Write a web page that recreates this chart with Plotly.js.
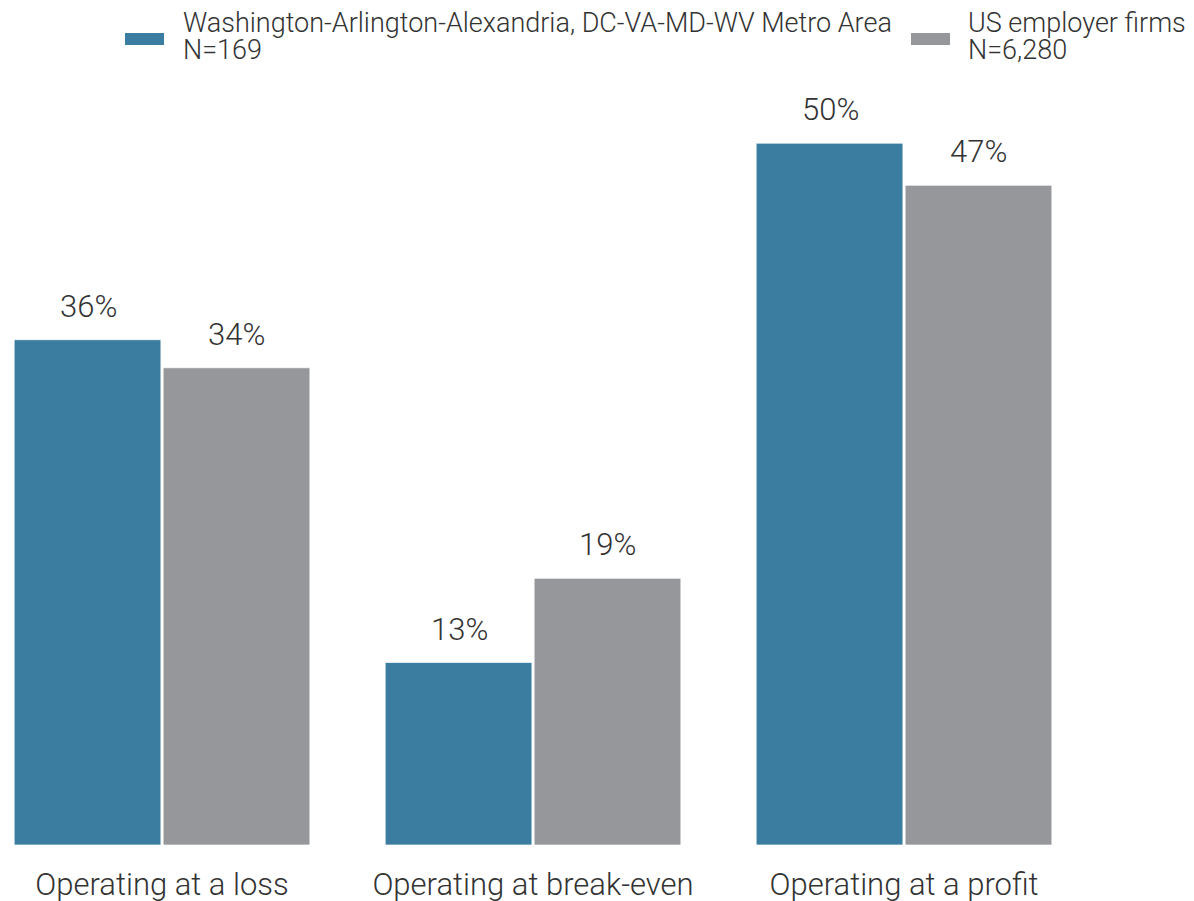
<!DOCTYPE html>
<html>
<head>
<meta charset="utf-8">
<script src="https://cdn.plot.ly/plotly-3.0.1.min.js"></script>
<style>html,body{margin:0;padding:0;background:#fff;}#chart{width:1194px;height:901px;}</style>
</head>
<body>
<div id="chart"></div>
<script>
const categories = ["Operating at a loss", "Operating at break-even", "Operating at a profit"];
const seriesNames = ["Washington-Arlington-Alexandria, DC-VA-MD-WV Metro Area", "US employer firms"];
const seriesN = ["N=169", "N=6,280"];
const metroValues = [36, 13, 50];
const usValues = [34, 19, 47];
const colors = ["#3a7da0", "#96979b"];

const W = 1194, H = 901;
const mT = 73, mB = 56;
const plotH = H - mT - mB;
const py = (y) => 1 + (mT - y) / plotH;   // pixel y -> paper y
const px = (x) => x / W;                  // pixel x -> paper x
const FONT = "Roboto";
const TXT = "#333333";

const valueSets = [metroValues, usValues];
const traces = valueSets.map((vals, i) => ({
  type: "bar",
  name: seriesNames[i],
  x: categories,
  y: vals,
  marker: { color: colors[i], line: { color: "rgba(255,255,255,0.7)", width: 1 } },
  hoverinfo: "skip",
  showlegend: false
}));

const annotations = [];
valueSets.forEach((vals, i) => {
  vals.forEach((v, j) => {
    annotations.push({
      x: categories[j], y: v, xref: "x", yref: "y",
      xshift: i === 0 ? -74 : 74, yshift: 13,
      yanchor: "bottom", xanchor: "center",
      text: v + "%", showarrow: false,
      font: { family: FONT, size: 31, color: TXT, weight: 300 }
    });
  });
});

const legendSwatchX = [125, 911];
const legendTextX = [181, 966];
const shapes = [];
seriesNames.forEach((name, i) => {
  shapes.push({
    type: "rect", xref: "paper", yref: "paper",
    x0: px(legendSwatchX[i]), x1: px(legendSwatchX[i] + 39),
    y0: py(45), y1: py(33),
    fillcolor: colors[i], line: { width: 0 }
  });
  [name, seriesN[i]].forEach((line, k) => {
    annotations.push({
      xref: "paper", yref: "paper",
      x: px(legendTextX[i]), y: py(k === 0 ? 23 : 50),
      xanchor: "left", yanchor: "middle", align: "left",
      text: line, showarrow: false,
      font: { family: FONT, size: 27, color: TXT, weight: 300 }
    });
  });
});

const layout = {
  width: W, height: H,
  margin: { l: 0, r: 0, t: mT, b: mB, pad: 0 },
  paper_bgcolor: "#ffffff", plot_bgcolor: "#ffffff",
  barmode: "group", bargap: 0.197, bargroupgap: 0.015,
  showlegend: false,
  xaxis: {
    type: "category", range: [-0.4367, 2.7816],
    showgrid: false, zeroline: false, showline: false, ticks: "",
    ticklabelstandoff: 18,
    tickfont: { family: FONT, size: 31, color: TXT, weight: 300 }
  },
  yaxis: {
    range: [0, 55], showgrid: false, zeroline: false, showline: false,
    showticklabels: false, ticks: ""
  },
  shapes: shapes,
  annotations: annotations
};

Plotly.newPlot("chart", traces, layout, { displayModeBar: false, staticPlot: true });
</script>
</body>
</html>
